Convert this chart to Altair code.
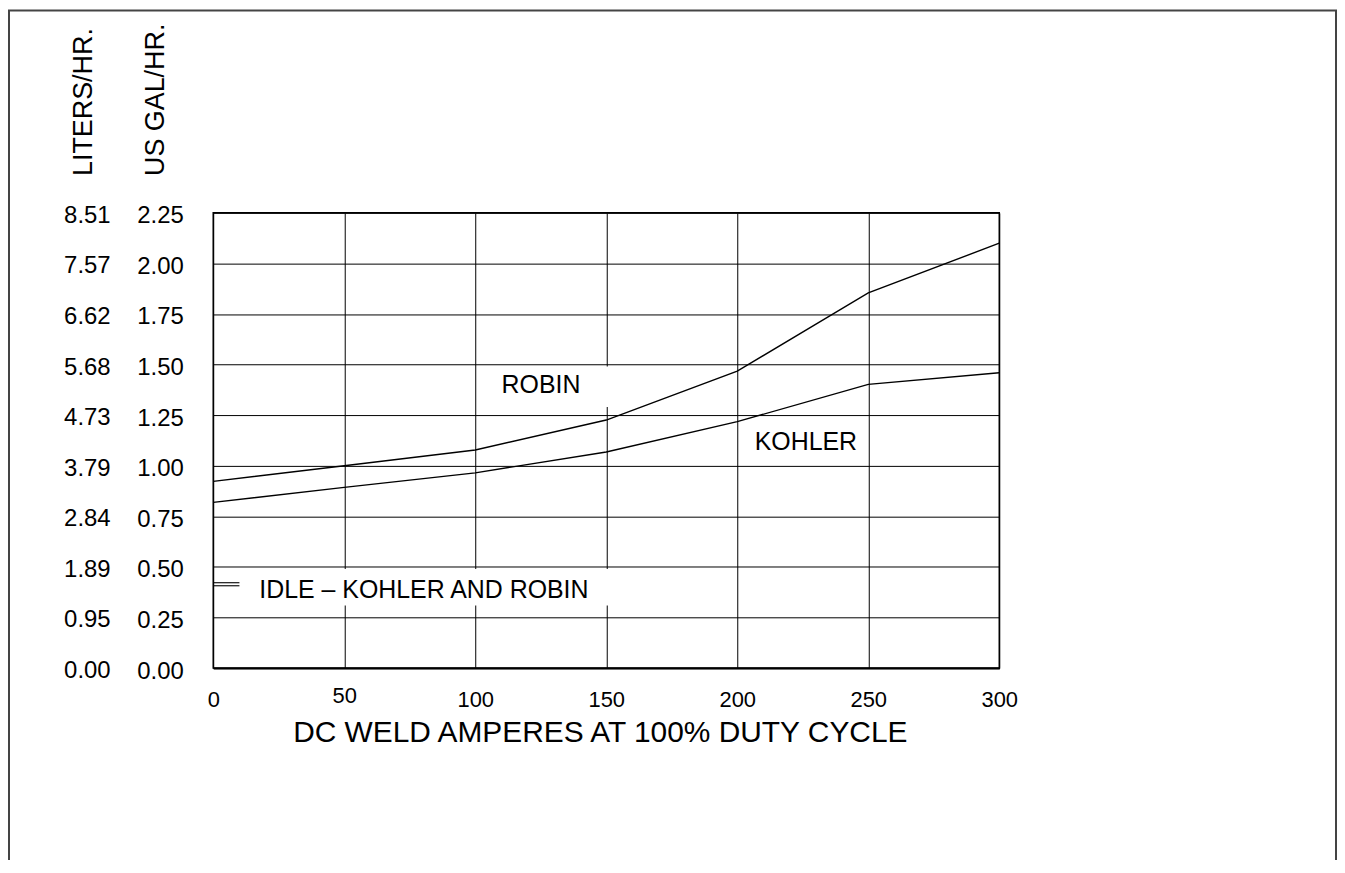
import altair as alt
import pandas as pd

# ---- data ----
amps = [0, 50, 100, 150, 200, 250, 300]
robin_gal = [0.923, 1.000, 1.078, 1.226, 1.468, 1.854, 2.100]
kohler_gal = [0.819, 0.893, 0.965, 1.068, 1.218, 1.402, 1.460]

idle_amps = [0, 10]
idle_kohler_gal = [0.422, 0.422]
idle_robin_gal = [0.407, 0.407]

gal_ticks = [0.00, 0.25, 0.50, 0.75, 1.00, 1.25, 1.50, 1.75, 2.00, 2.25]
liter_labels = ["0.00", "0.95", "1.89", "2.84", "3.79", "4.73", "5.68", "6.62", "7.57", "8.51"]
amp_ticks = [0, 50, 100, 150, 200, 250, 300]

label_text = ["ROBIN", "KOHLER", "IDLE \u2013 KOHLER AND ROBIN"]
label_amps = [125.1, 226.2, 80.4]
label_gal = [1.399, 1.116, 0.384]

# white boxes behind ROBIN and IDLE labels
box_amps = [105.0, 13.0]
box_amps2 = [151.5, 151.5]
box_gal = [1.29, 0.31]
box_gal2 = [1.49, 0.49]

FONT = "Liberation Sans"
W, H = 789, 457

curves = pd.DataFrame(
    {"amps": amps * 2, "gal": robin_gal + kohler_gal,
     "series": ["ROBIN"] * len(amps) + ["KOHLER"] * len(amps)}
)
idle = pd.DataFrame(
    {"amps": idle_amps * 2, "gal": idle_kohler_gal + idle_robin_gal,
     "series": ["K"] * 2 + ["R"] * 2}
)
ticks_df = pd.DataFrame({"gal": gal_ticks, "liters": liter_labels})
labels_df = pd.DataFrame({"amps": label_amps, "gal": label_gal, "text": label_text})
boxes_df = pd.DataFrame({"amps": box_amps, "amps2": box_amps2, "gal": box_gal, "gal2": box_gal2})

xscale = alt.Scale(domain=[0, 300], nice=False, zero=False)
yscale = alt.Scale(domain=[0, 2.25], nice=False, zero=False)

xaxis = alt.Axis(
    values=amp_ticks, title="DC WELD AMPERES AT 100% DUTY CYCLE",
    grid=True, gridColor="black", gridWidth=1, gridOpacity=1,
    ticks=False, tickSize=0, domain=True, domainColor="black", domainWidth=2,
    labelFont=FONT, labelFontSize=22, labelColor="black",
    labelPadding={"condition": {"test": "datum.value == 50", "value": 18}, "value": 22},
    labelBaseline="top", labelFlush=False,
    titleFont=FONT, titleFontSize=30, titleFontWeight="normal", titleColor="black",
    titleX=388, titleY=74, titleAlign="center", titleBaseline="alphabetic",
)
yaxis = alt.Axis(
    values=gal_ticks, title=None, format=".2f",
    grid=True, gridColor="black", gridWidth=1, gridOpacity=1,
    ticks=False, tickSize=0, domain=False,
    labelFont=FONT, labelFontSize=24, labelColor="black",
    labelPadding=30, labelBaseline="middle", labelOffset=3, labelFlush=False,
)

def X(field="amps"):
    return alt.X(f"{field}:Q", scale=xscale, axis=xaxis)

def Y(field="gal"):
    return alt.Y(f"{field}:Q", scale=yscale, axis=yaxis)

frame = alt.Chart(pd.DataFrame({"k": [0]})).mark_rect(
    fill=None, stroke="#444444", strokeWidth=2
).encode(
    x=alt.value(-205), x2=alt.value(1127), y=alt.value(-203), y2=alt.value(680)
)

lines = alt.Chart(curves).mark_line(color="black", strokeWidth=1.4).encode(
    x=X(), y=Y(), detail="series:N"
)

idle_lines = alt.Chart(idle).mark_line(color="black", strokeWidth=1.1).encode(
    x=X(), y=Y(), detail="series:N"
)

boxes = alt.Chart(boxes_df).mark_rect(fill="white", stroke=None).encode(
    x=X(), x2="amps2:Q", y=Y(), y2="gal2:Q"
)

labels = alt.Chart(labels_df).mark_text(
    font=FONT, fontSize=25, color="black", align="center", baseline="middle"
).encode(x=X(), y=Y(), text="text:N")

liters = alt.Chart(ticks_df).mark_text(
    font=FONT, fontSize=24, color="black", align="right", baseline="middle", dy=3
).encode(x=alt.value(-103), y=Y(), text="liters:N")

ytitles_df = pd.DataFrame({"t": ["LITERS/HR.", "US GAL/HR."], "px": [-122, -49]})
ytitles = alt.Chart(ytitles_df).mark_text(
    font=FONT, fontSize=27, color="black", align="left", baseline="alphabetic", angle=270
).encode(x=alt.X("px:Q", scale=None), y=alt.value(-37), text="t:N")

chart = alt.layer(
    frame, lines, idle_lines, boxes, labels, liters, ytitles
).properties(
    width=W, height=H,
    autosize=alt.AutoSizeParams(type="none"),
    padding={"left": 206, "top": 204, "right": 339, "bottom": 191},
    background="white",
).configure_view(
    stroke="black", strokeWidth=1.5
)

chart.save("out.html", embed_options={"renderer": "svg", "actions": False})
